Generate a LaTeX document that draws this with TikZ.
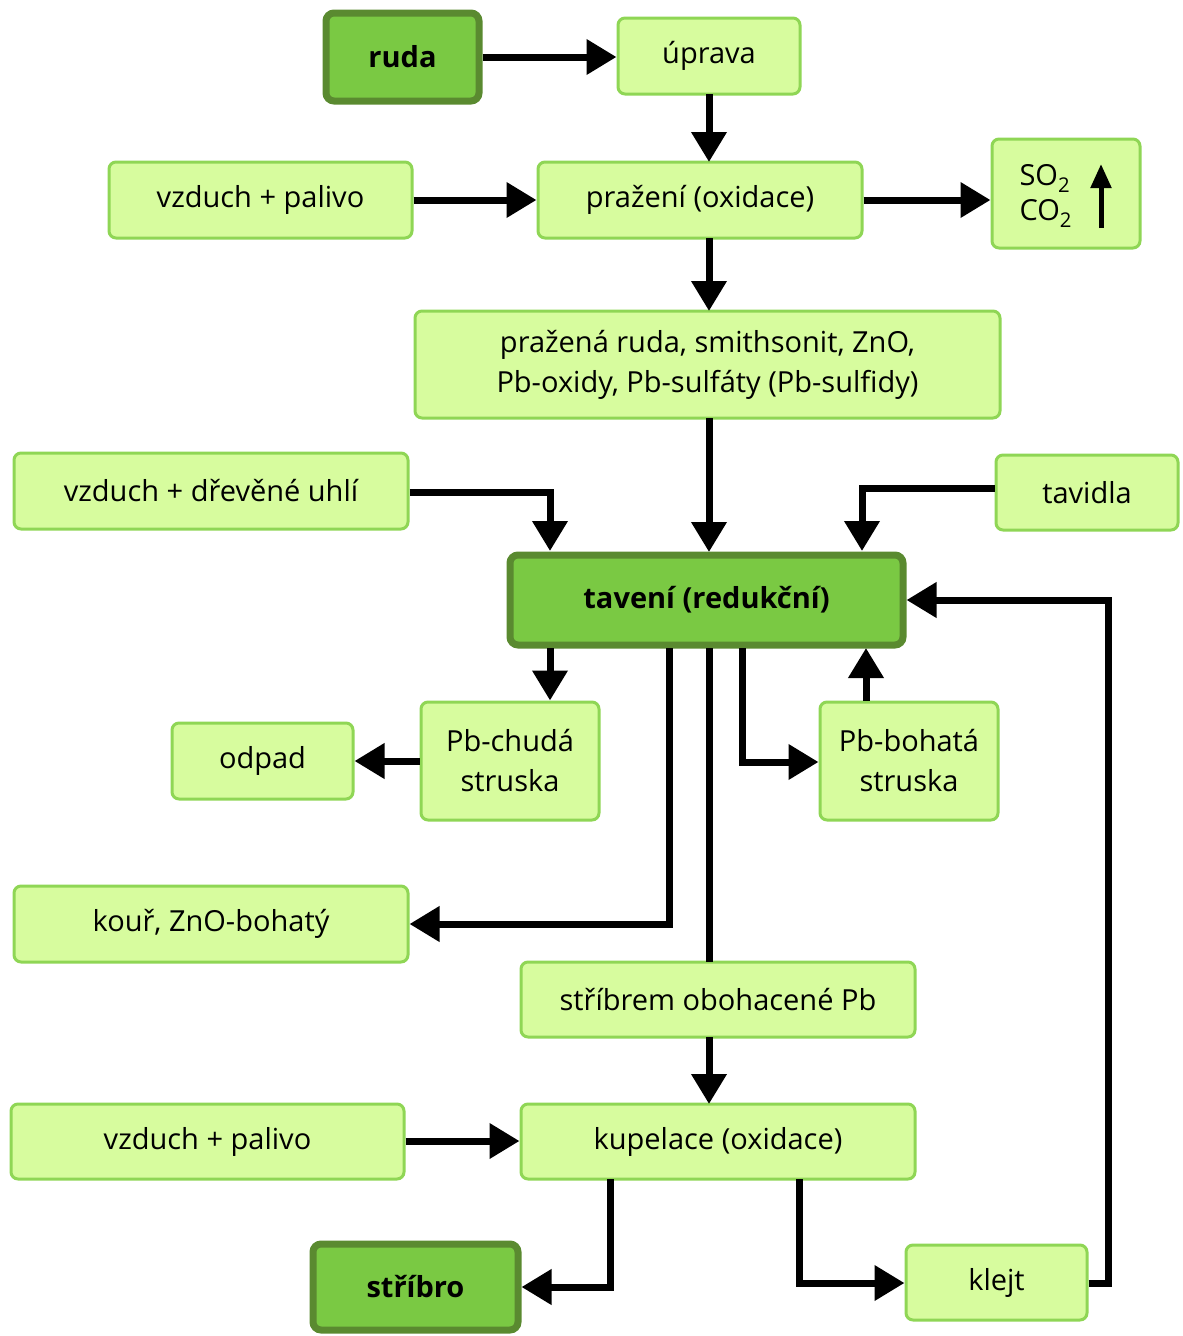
\documentclass[tikz,border=0pt]{standalone}
\usepackage{fontspec}
\setmainfont{Open Sans}
\usetikzlibrary{arrows.meta}
\definecolor{lfill}{HTML}{D7FC9E}
\definecolor{lborder}{HTML}{8FD655}
\definecolor{dfill}{HTML}{7AC943}
\definecolor{dborder}{HTML}{5A8A30}
\tikzset{
  lbox/.style={draw=lborder, fill=lfill, line width=3pt, rounded corners=7pt, inner sep=0pt, font=\fontsize{29}{40}\selectfont, align=center},
  dbox/.style={draw=dborder, fill=dfill, line width=7pt, rounded corners=8pt, inner sep=0pt, font=\fontsize{29}{40}\selectfont\bfseries, align=center},
  conn/.style={line width=7pt, -{Triangle[length=30pt,width=34pt]}},
  plain/.style={line width=7pt},
}
\newcommand{\bx}[7]{% style, name, x1, y1, x2, y2, text
  \node[#1, minimum width={(#5-#3)*1pt}, minimum height={(#6-#4)*1pt}] (#2) at ({(#3+#5)/2},{(#4+#6)/2}) {#7};}
\begin{document}
\begin{tikzpicture}[x=1pt,y=-1pt]
\useasboundingbox (0,0) rectangle (1183,1336);
\bx{dbox}{ruda}{326}{13}{479}{101}{ruda}
\bx{lbox}{uprava}{618}{18}{800}{94}{úprava}
\bx{lbox}{vp1}{109}{162}{412}{238}{vzduch + palivo}
\bx{lbox}{praz}{538}{162}{862}{238}{pražení (oxidace)}
\bx{lbox}{so}{992}{139}{1140}{248}{}
\node[font=\fontsize{29}{40}\selectfont, align=left, anchor=west] (sotext) at (1016,196) {SO\textsubscript{2}\\[-5pt]CO\textsubscript{2}};
\coordinate (up1) at (1101,228);
\coordinate (up2) at (1101,164);
\draw[line width=5pt, -{Triangle[length=24pt,width=20pt]}] (up1) -- (up2);
\bx{lbox}{pruda}{415}{311}{1000}{418}{pražená ruda, smithsonit, ZnO,\\Pb-oxidy, Pb-sulfáty (Pb-sulfidy)}
\bx{lbox}{vdu}{14}{453}{408}{529}{vzduch + dřevěné uhlí}
\bx{lbox}{tav}{996}{455}{1178}{530}{tavidla}
\bx{dbox}{taveni}{510}{555}{903}{645}{tavení (redukční)}
\bx{lbox}{odpad}{172}{723}{353}{799}{odpad}
\bx{lbox}{chuda}{421}{702}{599}{820}{Pb-chudá\\struska}
\bx{lbox}{bohata}{820}{702}{998}{820}{Pb-bohatá\\struska}
\bx{lbox}{kour}{14}{886}{408}{962}{kouř, ZnO-bohatý}
\bx{lbox}{stpb}{521}{962}{915}{1037}{stříbrem obohacené Pb}
\bx{lbox}{vp2}{11}{1104}{404}{1179}{vzduch + palivo}
\bx{lbox}{kup}{521}{1104}{915}{1179}{kupelace (oxidace)}
\bx{dbox}{stribro}{313}{1244}{518}{1330}{stříbro}
\bx{lbox}{klejt}{906}{1245}{1087}{1320}{klejt}

\draw[conn] (ruda.east |- 0,57) -- (uprava.west |- 0,57);
\draw[conn] (709,94) -- (709,162);
\draw[conn] (vp1.east) -- (praz.west);
\draw[conn] (praz.east) -- (so.west |- praz.east);
\draw[conn] (709,238) -- (709,311);
\draw[conn] (709,418) -- (709,552);
\draw[conn] (vdu.east |- 0,492) -| (550,551);
\draw[conn] (tav.west |- 0,488) -| (862,551);
\draw[conn] (klejt.east |- 0,1283) -| (1108,600) -- (taveni.east |- 0,600);
\draw[conn] (550,648) -- (chuda.north -| 550,0);
\draw[conn] (chuda.west |- 0,761) -- (odpad.east |- 0,761);
\draw[conn] (742,648) |- (bohata.west |- 0,762);
\draw[conn] (bohata.north -| 866,0) -- (866,648);
\draw[conn] (669,648) |- (kour.east |- 0,924);
\draw[plain] (709,648) -- (709,962);
\draw[conn] (709,1037) -- (709,1104);
\draw[conn] (vp2.east |- 0,1141) -- (kup.west |- 0,1141);
\draw[conn] (610,1179) |- (stribro.east |- 0,1287);
\draw[conn] (799,1179) |- (klejt.west |- 0,1283);
\end{tikzpicture}
\end{document}
